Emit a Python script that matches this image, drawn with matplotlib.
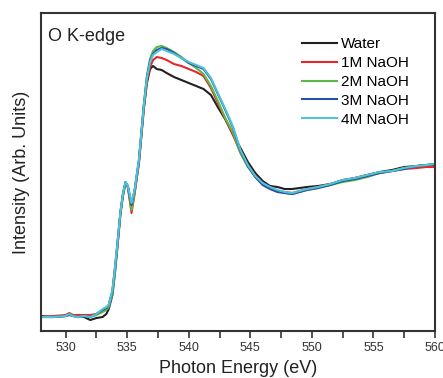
import matplotlib.pyplot as plt
from matplotlib.ticker import MultipleLocator

plt.rcParams['font.family'] = ['Liberation Sans', 'DejaVu Sans']

# photon energy grid (eV)
energy = [528, 529, 530, 530.3, 530.6, 531, 531.5, 532, 532.5, 533, 533.3, 533.5,
          533.8, 534, 534.15, 534.45, 534.65, 534.86, 535.05, 535.35, 535.6, 535.95,
          536.35, 536.6, 536.85, 537.1, 537.4, 537.8, 538.2, 538.8, 539.4, 540,
          540.6, 541.2, 541.8, 542.4, 543, 543.6, 544.2, 544.8, 545.4, 546, 546.6,
          547.2, 547.8, 548.4, 549, 549.6, 550.5, 551.5, 552.5, 553.5, 554.5, 555.5,
          556.5, 557.5, 558.5, 559.3, 560]

water = [15, 14, 15, 16, 15, 15, 14, 11, 13, 14, 17, 22,
         36, 58, 77, 117, 135, 148, 144, 124, 139, 168,
         222, 248, 262, 265, 262, 261, 258, 254, 251, 248,
         245, 242, 236, 223, 211, 196, 183, 169, 158, 150, 145,
         144, 142, 142, 143, 144, 145, 147, 151, 153, 156, 159,
         161, 164, 165, 166, 166]

naoh_1m = [14, 15, 16, 18, 16, 16, 16, 16, 17, 21, 23, 26,
           40, 62, 80, 118, 136, 148, 144, 118, 137, 168,
           224, 250, 264, 271, 274, 273, 271, 267, 265, 262,
           259, 255, 243, 227, 211, 196, 178, 165, 155, 147, 143,
           140, 139, 138, 140, 142, 144, 147, 150, 153, 156, 158,
           160, 162, 163, 164, 164]

naoh_2m = [14, 14, 15, 17, 15, 14, 15, 14, 16, 19, 21, 24,
           37, 58, 77, 118, 136, 149, 145, 121, 139, 170,
           226, 255, 272, 280, 284, 285, 283, 279, 274, 268,
           263, 257, 245, 229, 212, 198, 178, 164, 154, 147, 143,
           140, 138, 137, 139, 141, 143, 146, 149, 151, 154, 158,
           160, 163, 165, 166, 167]

naoh_3m = [14, 14, 15, 17, 15, 14, 15, 14, 17, 21, 23, 26,
           40, 62, 80, 119, 137, 149, 145, 126, 141, 171,
           226, 254, 270, 277, 281, 283, 282, 278, 273, 268,
           265, 262, 252, 236, 220, 203, 180, 165, 154, 146, 142,
           139, 138, 137, 139, 141, 143, 146, 150, 152, 155, 158,
           160, 162, 165, 166, 167]

naoh_4m = [14, 14, 15, 17, 15, 14, 15, 14, 17, 22, 24, 26,
           41, 63, 81, 119, 137, 149, 145, 128, 141, 171,
           226, 253, 269, 276, 279, 282, 280, 277, 273, 269,
           266, 263, 253, 237, 221, 204, 181, 166, 155, 148, 144,
           141, 139, 138, 140, 142, 144, 147, 151, 153, 156, 159,
           160, 163, 165, 166, 167]

labels = ['Water', '1M NaOH', '2M NaOH', '3M NaOH', '4M NaOH']
colors = ['#231f20', '#e8262a', '#5cb946', '#2b4ea6', '#4fc4d8']

fig = plt.figure(figsize=(4.43, 3.78), dpi=100)
ax = fig.add_axes([0.0926, 0.1243, 0.8894, 0.8413])

for ys, lab, c in zip([water, naoh_1m, naoh_2m, naoh_3m, naoh_4m], labels, colors):
    ax.plot(energy, ys, color=c, lw=1.5, label=lab)

ax.set_xlim(528, 560)
ax.set_ylim(0, 318)
ax.xaxis.set_major_locator(MultipleLocator(5))
ax.xaxis.set_minor_locator(MultipleLocator(2.5))
ax.set_yticks([])
ax.tick_params(axis='x', which='both', direction='out', length=5, width=1.2,
               color='#333333', labelsize=9, labelcolor='#333333', pad=3)
for s in ax.spines.values():
    s.set_linewidth(1.5)
    s.set_color('#333333')

ax.set_xlabel('Photon Energy (eV)', fontsize=13, color='#222222', labelpad=4)
ax.set_ylabel('Intensity (Arb. Units)', fontsize=13, color='#222222', labelpad=8)

ax.text(0.018, 0.925, 'O K-edge', transform=ax.transAxes, fontsize=13,
        va='center', ha='left', color='#222222')

ax.legend(loc='upper left', bbox_to_anchor=(0.662, 0.924), frameon=False,
          fontsize=11, handlelength=2.3, handletextpad=0.25, labelspacing=0.32,
          borderpad=0, borderaxespad=0)

fig.savefig('out.png', dpi=100)
